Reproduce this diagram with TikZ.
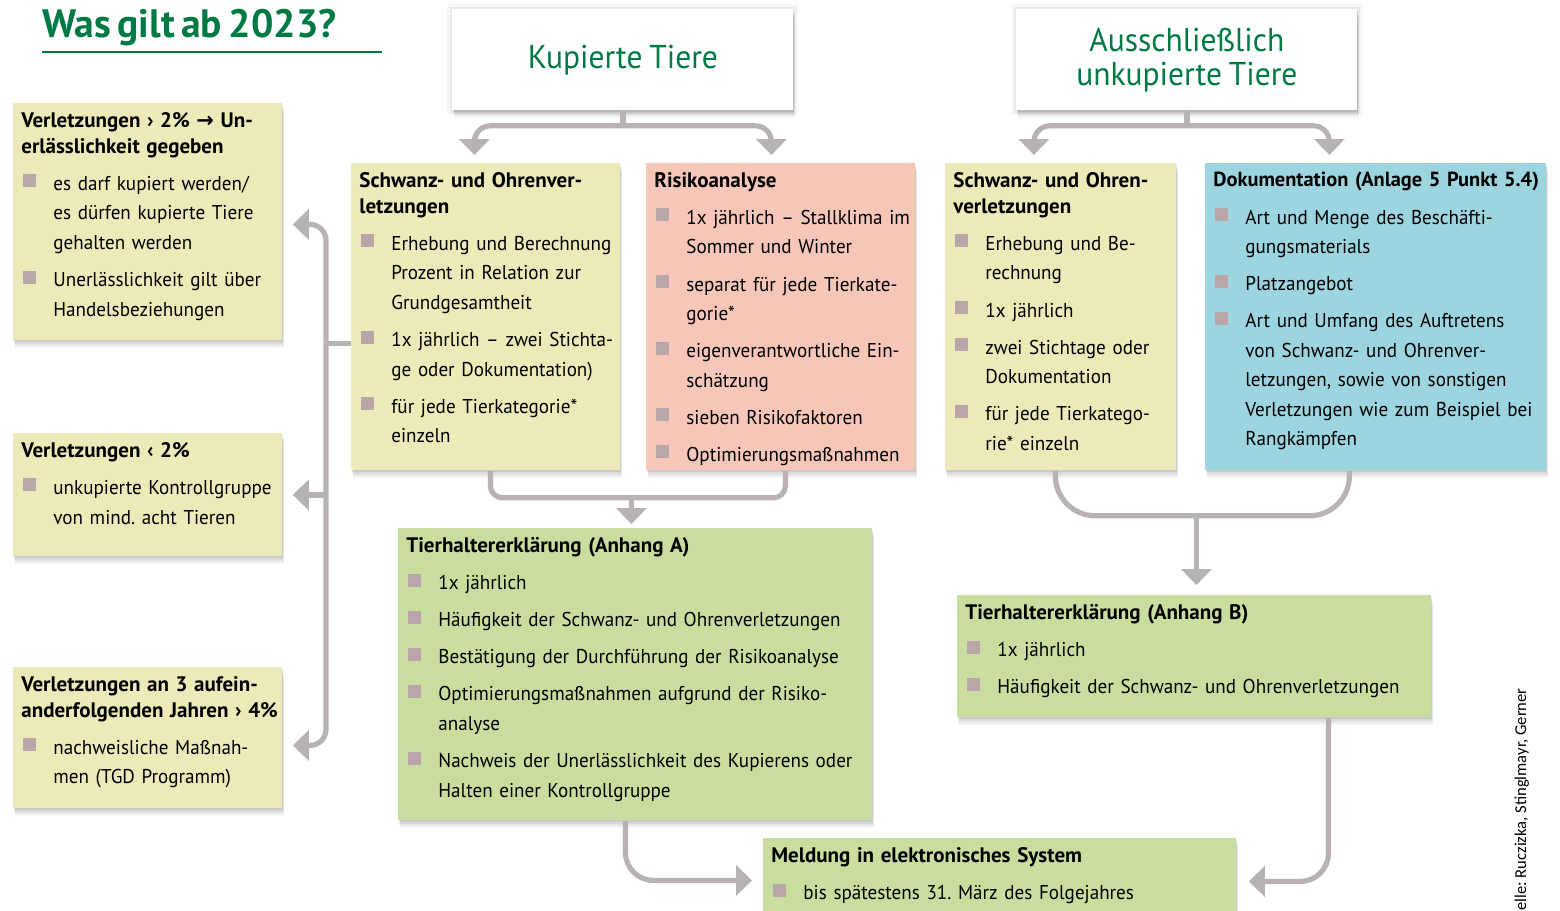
\documentclass[tikz,border=0pt]{standalone}
\usepackage{fontspec}
\setmainfont{PT Sans}[FakeStretch=0.955, WordSpace=0.8]
\newfontfamily\headfont{PT Sans}[WordSpace=0.65]
\newfontfamily\symfont{DejaVu Sans}
\newfontfamily\notefont{Carlito}
\usepackage{tikz}
\usetikzlibrary{positioning,arrows.meta,shadows}
\definecolor{TitleGreen}{RGB}{0,122,68}
\definecolor{PaleYellow}{RGB}{236,234,184}
\definecolor{Salmon}{RGB}{246,198,184}
\definecolor{SkyBlue}{RGB}{156,212,224}
\definecolor{LeafGreen}{RGB}{201,221,158}
\definecolor{ArrowGray}{RGB}{184,179,178}
\definecolor{BulletGray}{RGB}{186,166,168}
\setlength{\parindent}{0pt}
\hyphenpenalty=10000
\exhyphenpenalty=10000
\frenchspacing

% box heading and bullet item
\newcommand{\hd}[1]{{\headfont\bfseries\fontsize{10.5}{13}\selectfont #1\par}}
\newcommand{\itm}[1]{\par\vspace{3.8pt}\hangindent=16pt\hangafter=1\noindent
  \makebox[16pt][l]{\hspace{1pt}\textcolor{BulletGray}{\rule[1.5pt]{6.5pt}{6.5pt}}}#1\par}

\begin{document}
\begin{tikzpicture}[
    x=0.5pt, y=-0.5pt,
    panel/.style={
        rectangle, anchor=north west, inner sep=0pt,
        general shadow={fill=black, opacity=0.04, shadow xshift=0.9pt, shadow yshift=-3.6pt},
        general shadow={fill=black, opacity=0.05, shadow xshift=0.7pt, shadow yshift=-2.6pt},
        general shadow={fill=black, opacity=0.06, shadow xshift=0.5pt, shadow yshift=-1.7pt},
        general shadow={fill=black, opacity=0.07, shadow xshift=0.3pt, shadow yshift=-0.8pt}
    },
    headbox/.style={
        panel, fill=white, minimum width=170.5pt, minimum height=50.5pt,
        preaction={draw=black, draw opacity=0.03, line width=5pt},
        preaction={draw=black, draw opacity=0.05, line width=2.6pt},
        align=center, text=TitleGreen, font=\fontsize{16.5}{17}\selectfont
    },
    txt/.style={
        anchor=north west, inner xsep=4pt, inner ysep=4.5pt,
        align=left, font=\fontsize{10}{14.75}\selectfont
    },
    flowline/.style={line width=2.6pt, draw=ArrowGray},
    flow/.style={flowline, -{Triangle[width=15pt,length=8pt]}}
]
\useasboundingbox (0,0) rectangle (1560,911);
\fill[white] (0,0) rectangle (1560,911);

% Title
\node[font=\headfont\bfseries\fontsize{19.8}{21}\selectfont, text=TitleGreen, anchor=base west, inner sep=0pt]
    (title) at (42,37) {Was gilt ab 2023?};
\draw[TitleGreen, line width=1.1pt] (42,52) -- (382,52);

% Column heads
\node[headbox] (kup) at (452,9) {Kupierte Tiere};
\node[headbox] (aus) at (1016,9) {Ausschließlich\\unkupierte Tiere};

% Left column
\node[panel, fill=PaleYellow, minimum width=134.5pt, minimum height=118.5pt] (v1) at (13,103) {};
\node[txt, text width=140pt] (v1text) at (v1.north west) {
    \hd{Verletzungen › 2\% {\symfont →} Un-\newline erlässlichkeit gegeben}
    \itm{es darf kupiert werden/\newline es dürfen kupierte Tiere\newline gehalten werden}
    \itm{Unerlässlichkeit gilt über\newline Handelsbeziehungen}
};

\node[panel, fill=PaleYellow, minimum width=134.5pt, minimum height=61.5pt] (v2) at (13,433) {};
\node[txt, text width=140pt] (v2text) at (v2.north west) {
    \hd{Verletzungen ‹ 2\%}
    \itm{unkupierte Kontrollgruppe\newline von mind. acht Tieren}
};

\node[panel, fill=PaleYellow, minimum width=134.5pt, minimum height=70.5pt] (v3) at (13,667) {};
\node[txt, text width=140pt] (v3text) at (v3.north west) {
    \hd{Verletzungen an 3 aufein-\newline anderfolgenden Jahren › 4\%}
    \itm{nachweisliche Maßnah-\newline men (TGD Programm)}
};

% Kupierte Tiere
\node[panel, fill=PaleYellow, minimum width=134.5pt, minimum height=153.5pt] (sch1) at (351,163) {};
\node[txt, text width=140pt] (sch1text) at (sch1.north west) {
    \hd{Schwanz- und Ohrenver-\newline letzungen}
    \itm{Erhebung und Berechnung\newline Prozent in Relation zur\newline Grundgesamtheit}
    \itm{1x jährlich – zwei Stichta-\newline ge oder Dokumentation)}
    \itm{für jede Tierkategorie*\newline einzeln}
};

\node[panel, fill=Salmon, minimum width=134.5pt, minimum height=153.5pt] (risk) at (646,163) {};
\node[txt, text width=140pt] (risktext) at (risk.north west) {
    \hd{Risikoanalyse}
    \itm{1x jährlich – Stallklima im\newline Sommer und Winter}
    \itm{separat für jede Tierkate-\newline gorie*}
    \itm{eigenverantwortliche Ein-\newline schätzung}
    \itm{sieben Risikofaktoren}
    \itm{Optimierungsmaßnahmen}
};

% Ausschliesslich unkupierte Tiere
\node[panel, fill=PaleYellow, minimum width=115.5pt, minimum height=153.5pt] (sch2) at (945,163) {};
\node[txt, text width=122pt] (sch2text) at (sch2.north west) {
    \hd{Schwanz- und Ohren-\newline verletzungen}
    \itm{Erhebung und Be-\newline rechnung}
    \itm{1x jährlich}
    \itm{zwei Stichtage oder\newline Dokumentation}
    \itm{für jede Tierkatego-\newline rie* einzeln}
};

\node[panel, fill=SkyBlue, minimum width=170.5pt, minimum height=153.5pt] (doku) at (1205,163) {};
\node[txt, text width=176pt] (dokutext) at (doku.north west) {
    \hd{\fontsize{10.2}{13}\selectfont Dokumentation (Anlage 5 Punkt 5.4)}
    \itm{Art und Menge des Beschäfti-\newline gungsmaterials}
    \itm{Platzangebot}
    \itm{Art und Umfang des Auftretens\newline von Schwanz- und Ohrenver-\newline letzungen, sowie von sonstigen\newline Verletzungen wie zum Beispiel bei\newline Rangkämpfen}
};

% Tierhaltererklaerungen
\node[panel, fill=LeafGreen, minimum width=237pt, minimum height=146pt] (tha) at (398,528) {};
\node[txt, text width=244pt] (thatext) at (tha.north west) {
    \hd{Tierhaltererklärung (Anhang A)}
    \itm{1x jährlich}
    \itm{Häufigkeit der Schwanz- und Ohrenverletzungen}
    \itm{Bestätigung der Durchführung der Risikoanalyse}
    \itm{Optimierungsmaßnahmen aufgrund der Risiko-\newline analyse}
    \itm{Nachweis der Unerlässlichkeit des Kupierens oder\newline Halten einer Kontrollgruppe}
};

\node[panel, fill=LeafGreen, minimum width=237pt, minimum height=61pt] (thb) at (957,595) {};
\node[txt, text width=244pt] (thbtext) at (thb.north west) {
    \hd{Tierhaltererklärung (Anhang B)}
    \itm{1x jährlich}
    \itm{Häufigkeit der Schwanz- und Ohrenverletzungen}
};

\node[panel, fill=LeafGreen, minimum width=236.5pt, minimum height=40pt] (meld) at (763,838) {};
\node[txt, text width=244pt] (meldtext) at (meld.north west) {
    \hd{Meldung in elektronisches System}
    \itm{bis spätestens 31. März des Folgejahres}
};

% Source note
\node[font=\notefont\fontsize{8.3}{9}\selectfont, rotate=90, anchor=base west, inner sep=0pt]
    (source) at (1526,911) {elle: Ruczizka, Stinglmayr, Gerner};

% Connectors: column heads
\draw[flowline] (kup.south) -- ++(0,15);
\draw[flow, rounded corners=8pt, shorten >=4pt] ([yshift=-7.5pt]kup.south) -| ([xshift=-5.75pt]sch1.north);
\draw[flow, rounded corners=8pt, shorten >=4pt] ([yshift=-7.5pt]kup.south) -| ([xshift=-4.75pt]risk.north);
\draw[flowline] (aus.south) -- ++(0,15);
\draw[flow, rounded corners=8pt, shorten >=4pt] ([yshift=-7.5pt]aus.south) -| ([xshift=-13.5pt]sch2.north);
\draw[flow, rounded corners=8pt, shorten >=4pt] ([yshift=-7.5pt]aus.south) -| ([xshift=-23.25pt]doku.north);

% Connectors: into the declarations
\draw[flowline, rounded corners=6pt] ([xshift=2.25pt]sch1.south) -- ++(0,27) -| ([xshift=2.25pt]risk.south);
\draw[flow, shorten >=2pt] ([xshift=-2pt,yshift=15.5pt]tha.north) -- ([xshift=-2pt]tha.north);
\draw[flowline, rounded corners=20pt] ([xshift=-2.75pt]sch2.south) -- ++(0,45) -| ([xshift=-13.25pt]doku.south);
\draw[flow, shorten >=5pt] ([xshift=1pt,yshift=40pt]thb.north) -- ([xshift=1pt]thb.north);

% Connectors: left column
\coordinate (jleft) at ([xshift=-12.5pt,yshift=-13.25pt]sch1.west);
\draw[flowline] ([yshift=-13.25pt]sch1.west) -- (jleft);
\draw[flow, rounded corners=8pt, shorten >=5pt] (jleft) |- ([yshift=-1.25pt]v1.east);
\draw[flow, shorten >=5pt] (jleft |- v2.east) -- (v2.east);
\draw[flow, rounded corners=8pt, shorten >=5pt] (jleft) |- ([yshift=-3.75pt]v3.east);

% Connectors: to the report
\draw[flow, rounded corners=14pt, shorten >=5.5pt] ([xshift=-5pt]tha.south) |- ([yshift=-1pt]meld.west);
\draw[flow, rounded corners=14pt, shorten >=6pt] ([xshift=67pt]thb.south) |- ([yshift=-1.5pt]meld.east);

\end{tikzpicture}
\end{document}
